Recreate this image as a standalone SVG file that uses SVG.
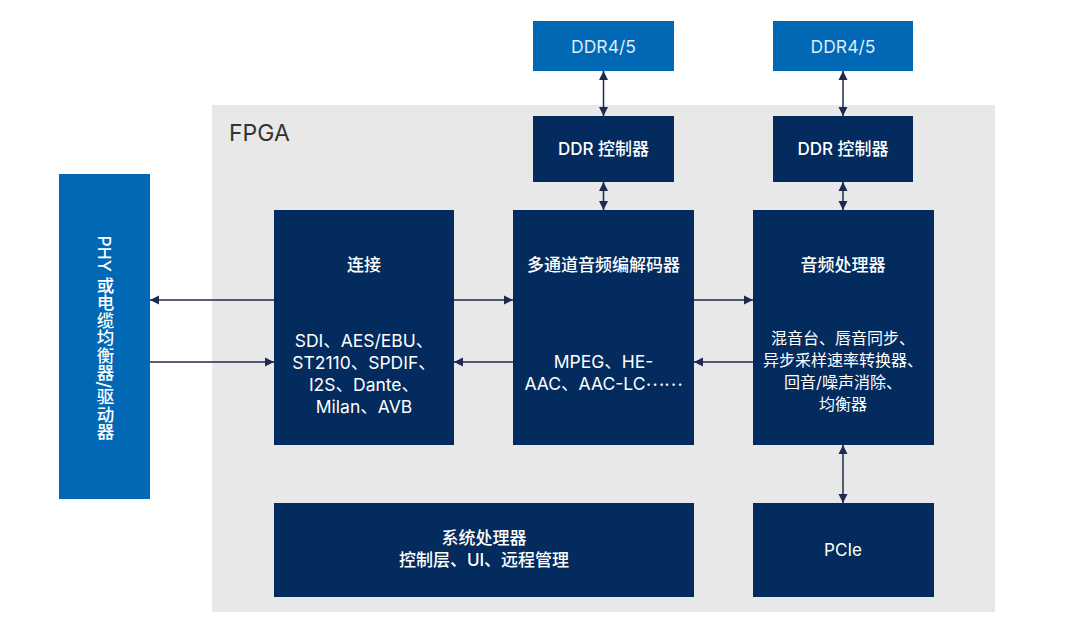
<svg xmlns="http://www.w3.org/2000/svg" width="1080" height="632" viewBox="0 0 1080 632">
<style>
.dark{fill:#032b5d}
.light{fill:#0068b5}
text{font-family:Inter,"Noto Sans CJK SC",sans-serif;fill:#fff;text-anchor:middle;dominant-baseline:central}
.t{font-size:17px;font-weight:500}
.d{font-size:16px}
.dl{font-size:17.5px}
.mem{font-size:17.5px;fill:#dcebf8}
.cjk{font-family:"Noto Sans CJK SC",sans-serif}
.conn line{stroke:#1f2a50;stroke-width:1.5}
</style>
<defs>
<marker id="ah" viewBox="0 0 10 10" refX="10" refY="5" markerWidth="9" markerHeight="11" markerUnits="userSpaceOnUse" orient="auto-start-reverse">
<path d="M0,0 L10,5 L0,10 z" fill="#1f2a50"/>
</marker>
</defs>
<rect width="1080" height="632" fill="#fff"/>
<g id="fpga">
<rect x="212" y="105" width="783" height="507" fill="#e8e8e9"/>
<text x="229" y="133" style="font-size:23px;fill:#333;text-anchor:start">FPGA</text>
</g>
<g id="phy">
<rect class="light" x="59" y="174" width="91" height="325"/>
<text x="104.5" y="338" writing-mode="tb" class="t" style="font-size:17.5px">PHY 或电缆均衡器/驱动器</text>
</g>
<g id="ddr1">
<rect class="light" x="533" y="21" width="141" height="50"/>
<text class="mem" x="603.5" y="46">DDR4/5</text>
</g>
<g id="ddr2">
<rect class="light" x="773" y="21" width="140" height="50"/>
<text class="mem" x="843" y="46">DDR4/5</text>
</g>
<g id="ddrc1">
<rect class="dark" x="533" y="116" width="141" height="66"/>
<text class="t" x="603.5" y="149">DDR 控制器</text>
</g>
<g id="ddrc2">
<rect class="dark" x="773" y="116" width="140" height="66"/>
<text class="t" x="843" y="149">DDR 控制器</text>
</g>
<g id="connectivity">
<rect class="dark" x="274" y="210" width="180" height="235"/>
<text class="t" x="364" y="265">连接</text>
<text class="dl" x="364" y="340">SDI、AES/EBU、</text>
<text class="dl" x="364" y="362">ST2110、SPDIF、</text>
<text class="dl" x="364" y="384">I2S、Dante、</text>
<text class="dl" x="364" y="406">Milan、AVB</text>
</g>
<g id="codec">
<rect class="dark" x="513" y="210" width="181" height="235"/>
<text class="t" x="603.5" y="265">多通道音频编解码器</text>
<text class="dl" x="603.5" y="361">MPEG、HE-</text>
<text class="dl" x="603.5" y="383">AAC、AAC-LC<tspan class="cjk" dy="-5">……</tspan></text>
</g>
<g id="audio">
<rect class="dark" x="753" y="210" width="181" height="235"/>
<text class="t" x="843" y="265">音频处理器</text>
<text class="d" x="843" y="338">混音台、唇音同步、</text>
<text class="d" x="843" y="360">异步采样速率转换器、</text>
<text class="d" x="843" y="382">回音/噪声消除、</text>
<text class="d" x="843" y="404">均衡器</text>
</g>
<g id="sysproc">
<rect class="dark" x="274" y="503" width="420" height="94"/>
<text class="t" x="484" y="538">系统处理器</text>
<text class="t" x="484" y="560">控制层、UI、远程管理</text>
</g>
<g id="pcie">
<rect class="dark" x="753" y="503" width="181" height="94"/>
<text class="t" x="843" y="550" style="font-weight:400">PCIe</text>
</g>
<g class="conn" id="connectors">
<line x1="274" y1="300" x2="150" y2="300" marker-end="url(#ah)"/>
<line x1="454" y1="300" x2="513" y2="300" marker-end="url(#ah)"/>
<line x1="694" y1="300" x2="753" y2="300" marker-end="url(#ah)"/>
<line x1="150" y1="362" x2="274" y2="362" marker-end="url(#ah)"/>
<line x1="513" y1="362" x2="454" y2="362" marker-end="url(#ah)"/>
<line x1="753" y1="362" x2="694" y2="362" marker-end="url(#ah)"/>
<line x1="603.5" y1="71" x2="603.5" y2="116" marker-start="url(#ah)" marker-end="url(#ah)"/>
<line x1="603.5" y1="182" x2="603.5" y2="210" marker-start="url(#ah)" marker-end="url(#ah)"/>
<line x1="843" y1="71" x2="843" y2="116" marker-start="url(#ah)" marker-end="url(#ah)"/>
<line x1="843" y1="182" x2="843" y2="210" marker-start="url(#ah)" marker-end="url(#ah)"/>
<line x1="843" y1="445" x2="843" y2="503" marker-start="url(#ah)" marker-end="url(#ah)"/>
</g>
</svg>
